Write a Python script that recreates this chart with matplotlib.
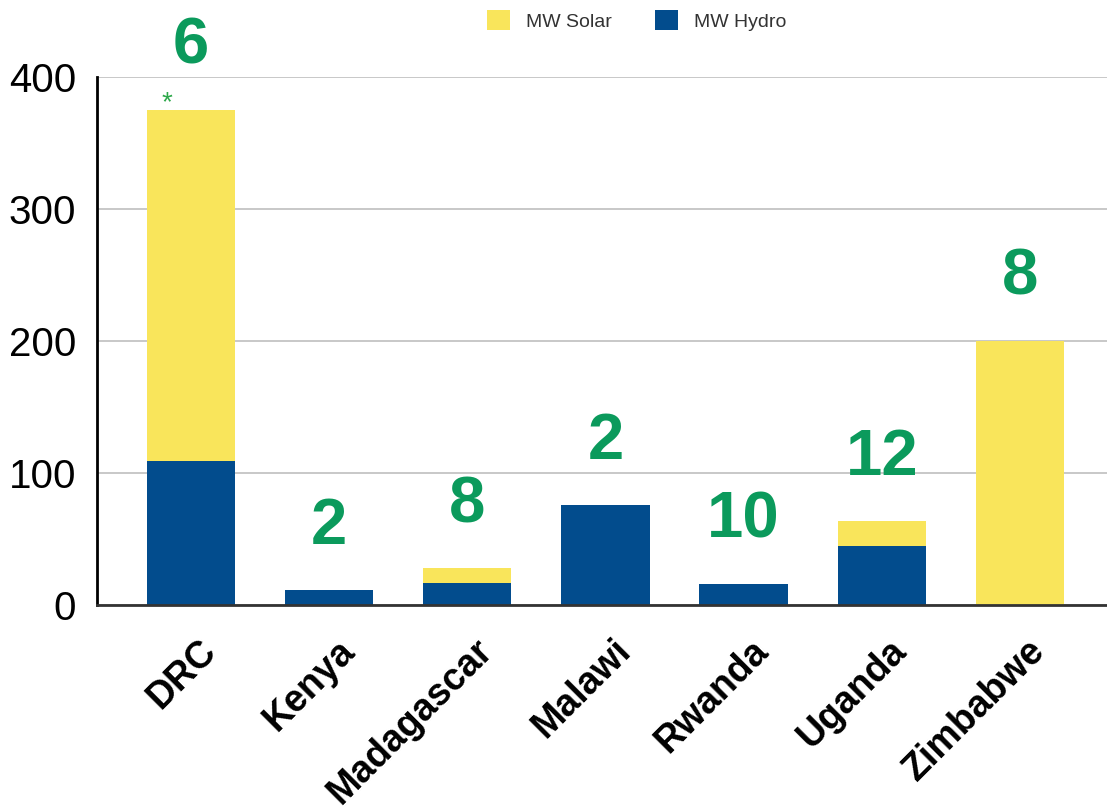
import matplotlib.pyplot as plt
from matplotlib.patches import Patch
import matplotlib.transforms as mtransforms

plt.rcParams['font.family'] = ['Liberation Sans', 'DejaVu Sans']

countries = ['DRC', 'Kenya', 'Madagascar', 'Malawi', 'Rwanda', 'Uganda', 'Zimbabwe']
mw_hydro = [109, 11, 17, 76, 16, 45, 0]
mw_solar = [266, 0, 11, 0, 0, 19, 200]
counts = ['6', '2', '8', '2', '10', '12', '8']

yellow = '#F9E55B'
blue = '#024C8D'
green = '#0B9A5C'

fig = plt.figure(figsize=(11.07, 8.10), dpi=100)
ax = fig.add_axes([0.0876, 0.2531, 0.9124, 0.6519])

x = list(range(len(countries)))
ax.bar(x, mw_hydro, width=0.64, color=blue, zorder=3)
ax.bar(x, mw_solar, width=0.64, bottom=mw_hydro, color=yellow, zorder=3)

# big green numbers above each bar
for i, c in enumerate(counts):
    top = mw_hydro[i] + mw_solar[i]
    ax.annotate(c, (i, top), xytext=(0, 33), textcoords='offset pixels',
                ha='center', va='bottom', fontsize=47, fontweight='bold',
                color=green, zorder=5, annotation_clip=False)

# asterisk on DRC
ax.annotate('*', (0, mw_hydro[0] + mw_solar[0]), xytext=(-24, -6),
            textcoords='offset pixels', ha='center', va='bottom',
            fontsize=20, color='#2DA84A', zorder=5)

ax.set_xlim(-0.68, 6.63)
ax.set_ylim(0, 400)
ax.set_yticks([0, 100, 200, 300, 400])
ax.yaxis.grid(True, color='#C8C8C8', linewidth=1.4, zorder=0)
ax.set_axisbelow(True)

for s in ['top', 'right']:
    ax.spines[s].set_visible(False)
ax.spines['left'].set_color('black')
ax.spines['left'].set_linewidth(2)
ax.spines['bottom'].set_color('#333333')
ax.spines['bottom'].set_linewidth(2)
ax.spines['bottom'].set_zorder(4)

ax.tick_params(axis='y', length=0, pad=15, labelsize=29)
ax.tick_params(axis='x', length=0, pad=20)
ax.set_xticks(x)
ax.set_xticklabels(countries, rotation=45, ha='right', rotation_mode='anchor',
                   fontsize=27, fontweight='bold')
offset = mtransforms.ScaledTranslation(0.07, 0, fig.dpi_scale_trans)
for lab in ax.get_xticklabels():
    lab.set_transform(lab.get_transform() + offset)

handles = [Patch(facecolor=yellow, label='MW Solar'),
           Patch(facecolor=blue, label='MW Hydro')]
fig.legend(handles=handles, loc='center', bbox_to_anchor=(0.575, 0.975),
           ncol=2, frameon=False, fontsize=14, handlelength=1.2,
           handleheight=1.2, columnspacing=2.2, labelcolor='#333333')

fig.savefig('out.png', dpi=100)
